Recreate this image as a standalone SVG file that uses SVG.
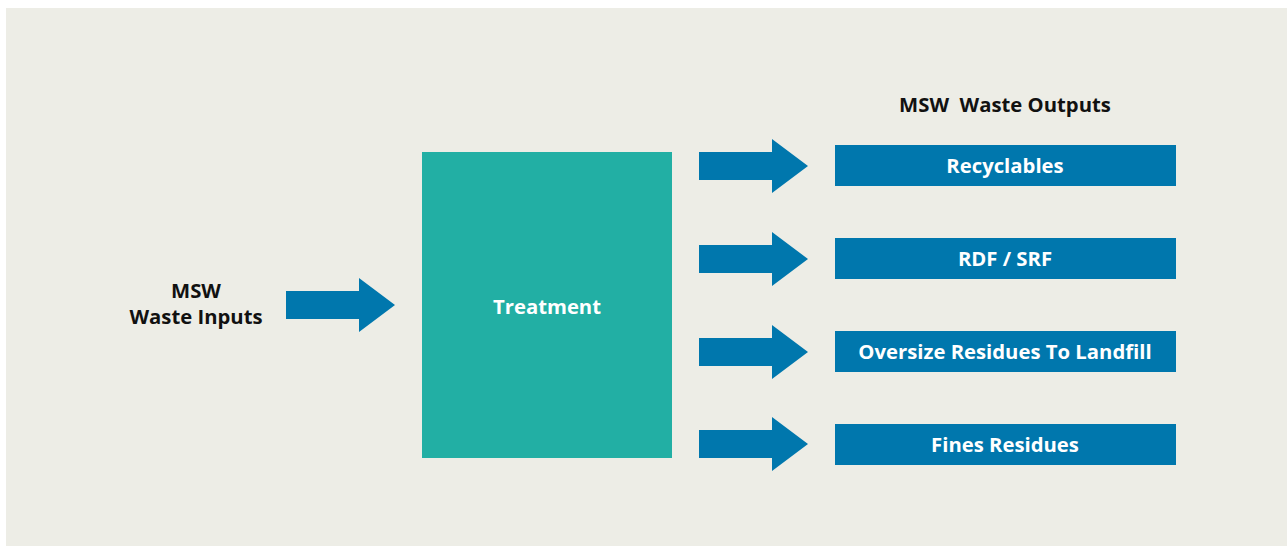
<svg xmlns="http://www.w3.org/2000/svg" width="1287" height="546" viewBox="0 0 1287 546">
  <style>
    .lbl { font-family: "Open Sans", "Liberation Sans", sans-serif; font-weight: 700; font-size: 20.3px; text-anchor: middle; }
    .dark { fill: #111111; }
    .light { fill: #ffffff; }
    .out { fill: #0077ad; }
    .arrow { fill: #0077ad; }
  </style>
  <defs>
    <!-- block arrow, origin at the shaft's left end on the centre line -->
    <path id="blockArrow" d="M0,-14 H73 V-27 L109,0 L73,27 V14 H0 Z"/>
  </defs>

  <rect x="6" y="8" width="1281" height="538" fill="#ededE6"/>

  <g id="input">
    <text class="lbl dark" x="196" y="298">MSW</text>
    <text class="lbl dark" x="196" y="324">Waste Inputs</text>
  </g>

  <g id="treatment">
    <rect x="422" y="152" width="250" height="306" fill="#22afa4"/>
    <text class="lbl light" x="547" y="314">Treatment</text>
  </g>

  <g id="outputs-title">
    <text class="lbl dark" x="1005" y="112" xml:space="preserve">MSW  Waste Outputs</text>
  </g>

  <g id="recyclables">
    <rect class="out" x="835" y="145" width="341" height="41"/>
    <text class="lbl light" x="1005" y="173">Recyclables</text>
  </g>
  <g id="rdf-srf">
    <rect class="out" x="835" y="238" width="341" height="41"/>
    <text class="lbl light" x="1005" y="266">RDF / SRF</text>
  </g>
  <g id="oversize">
    <rect class="out" x="835" y="331" width="341" height="41"/>
    <text class="lbl light" x="1005" y="359">Oversize Residues To Landfill</text>
  </g>
  <g id="fines">
    <rect class="out" x="835" y="424" width="341" height="41"/>
    <text class="lbl light" x="1005" y="452">Fines Residues</text>
  </g>

  <g id="connectors" class="arrow">
    <use href="#blockArrow" x="286" y="305"/>
    <use href="#blockArrow" x="699" y="166"/>
    <use href="#blockArrow" x="699" y="259"/>
    <use href="#blockArrow" x="699" y="352"/>
    <use href="#blockArrow" x="699" y="444"/>
  </g>
</svg>
